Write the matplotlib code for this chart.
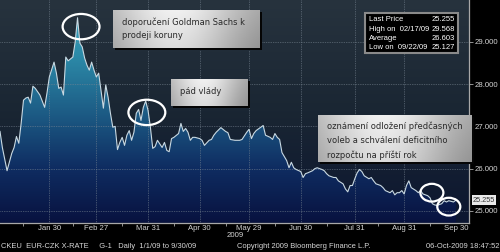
import numpy as np
import matplotlib
matplotlib.use("Agg")
import matplotlib.pyplot as plt
from matplotlib.patches import Ellipse, Rectangle
from matplotlib.colors import LinearSegmentedColormap
import matplotlib.transforms as mtransforms

# trading-day index (0 = 1 Jan 2009) and EUR/CZK close
days = [0, 1, 3, 5, 6, 7, 8, 9, 10, 11, 12, 13, 14, 15, 17, 19, 20, 21, 23, 24,
        25, 26, 27, 28, 29, 31, 32, 33, 34, 35, 36, 37, 38, 39, 40, 41, 42, 44, 45, 46,
        47, 48, 49, 50, 51, 52, 53, 54, 55, 56, 57, 58, 59, 60, 61, 62, 63, 64, 65, 66,
        67, 69, 70, 71, 72, 73, 74, 76, 77, 78, 79, 80, 81, 82, 83, 85, 86, 87, 89, 90,
        91, 92, 94, 96, 97, 98, 100, 102, 103, 105, 106, 107, 108, 109, 111, 112, 113, 115, 116, 117,
        118, 119, 120, 122, 123, 124, 125, 126, 128, 129, 130, 131, 133, 134, 135, 137, 138, 139, 140, 142,
        143, 144, 146, 147, 148, 149, 150, 151, 152, 153, 154, 155, 157, 158, 159, 160, 162, 163, 164, 166,
        167, 168, 169, 170, 171, 172, 173, 174, 175, 177, 178, 179, 180, 182, 183, 184, 185, 186, 188, 189,
        190, 191, 193, 194]
rate = [26.88, 26.50, 25.95, 26.36, 26.50, 26.76, 26.60, 27.07, 27.62, 27.67, 27.69, 27.55, 27.95, 27.90, 27.74, 27.45, 27.79, 28.17, 28.52, 28.26,
        27.90, 27.93, 27.74, 28.64, 28.55, 28.64, 29.00, 29.57, 28.97, 28.88, 28.62, 28.45, 28.33, 28.52, 28.33, 28.17, 28.26, 27.43, 27.98, 27.69,
        27.31, 26.98, 27.00, 26.45, 26.62, 26.74, 26.55, 26.79, 26.90, 26.67, 26.86, 27.31, 27.40, 27.14, 27.45, 27.60, 27.38, 26.98, 26.48, 26.52,
        26.67, 26.50, 26.62, 26.43, 26.40, 26.71, 26.74, 26.83, 27.07, 26.88, 26.95, 26.86, 26.67, 26.74, 26.74, 26.71, 26.67, 26.55, 26.67, 26.69,
        26.79, 26.86, 26.97, 26.88, 26.85, 26.69, 26.67, 26.67, 26.69, 26.86, 26.93, 26.71, 26.83, 26.90, 26.98, 27.02, 26.79, 26.74, 26.69, 26.83,
        26.74, 26.69, 26.38, 26.19, 26.02, 26.15, 26.02, 25.98, 25.93, 25.79, 25.88, 25.90, 25.95, 26.00, 26.02, 25.98, 25.95, 25.88, 25.83, 25.79,
        25.79, 25.71, 25.64, 25.52, 25.45, 25.60, 25.60, 25.76, 25.90, 25.98, 25.93, 25.83, 25.76, 25.79, 25.71, 25.64, 25.60, 25.55, 25.48, 25.43,
        25.48, 25.38, 25.43, 25.43, 25.48, 25.40, 25.60, 25.71, 25.55, 25.48, 25.43, 25.48, 25.40, 25.36, 25.31, 25.17, 25.14, 25.13, 25.17, 25.24,
        25.21, 25.24, 25.21, 25.255]

month_pos = [21, 41, 63, 85, 106, 128, 151, 172, 194]
month_labels = ["Jan 30", "Feb 27", "Mar 31", "Apr 30", "May 29", "Jun 30", "Jul 31", "Aug 31", "Sep 30"]
mid_pos = [10, 31, 52, 74, 96, 117, 139, 161, 183]
y_ticks = [25, 26, 27, 28, 29]

stats_names = ["Last Price", "High on  02/17/09", "Average", "Low on  09/22/09"]
stats_values = ["25.255", "29.568", "26.603", "25.127"]

W, H = 500, 252
def fx(px):
    return px / W
def fy(py):
    return 1 - py / H

fig = plt.figure(figsize=(5, 2.52), dpi=100, facecolor="black")
ax = fig.add_axes([0, fy(222.7), fx(469), 222.7 / H])
x0, x1, y0, y1 = 0, 199.6, 24.72, 29.99
ax.set_xlim(x0, x1)
ax.set_ylim(y0, y1)

# background gradient
bg = LinearSegmentedColormap.from_list("bg", ["#0c1630", "#1a2633", "#27333e"])
ax.imshow(np.linspace(0, 1, 256).reshape(-1, 1), cmap=bg, origin="lower", aspect="auto",
          extent=(x0, x1, y0, y1), zorder=0)

# area gradient clipped to the filled polygon
area = ax.fill_between(days, rate, y0, color="none", zorder=1)
fill_cmap = LinearSegmentedColormap.from_list("fill", ["#08123f", "#0f2d62", "#1d5d86", "#2c8aa8", "#3aa6c2"])
img = ax.imshow(np.linspace(0, 1, 256).reshape(-1, 1), cmap=fill_cmap, origin="lower", aspect="auto",
                extent=(x0, x1, y0, y1), zorder=1)
img.set_clip_path(area.get_paths()[0], transform=ax.transData)
ax.plot(days, rate, color="#c9d9e2", lw=0.8, zorder=3)

# grid
for v in y_ticks:
    ax.axhline(v, color="#7a8794", lw=0.5, ls=(0, (1, 1.5)), zorder=2)
for p in month_pos[:-1]:
    ax.axvline(p, color="#7a8794", lw=0.5, ls=(0, (1, 1.5)), zorder=2)

ax.yaxis.tick_right()
ax.set_yticks(y_ticks)
ax.set_yticklabels(["%.3f" % v for v in y_ticks])
ax.set_xticks(month_pos)
ax.set_xticklabels(month_labels)
ax.set_xticks(mid_pos, minor=True)
ax.tick_params(axis="y", colors="#aaaaaa", labelcolor="#d4d4d4", labelsize=5.6, length=3, width=0.6, pad=1)
ax.tick_params(axis="x", which="major", length=0, labelcolor="#d4d4d4", labelsize=5.6, pad=1.5)
ax.tick_params(axis="x", which="minor", length=2, width=0.6, colors="#aaaaaa")
for lab in ax.get_xticklabels() + ax.get_yticklabels():
    lab.set_family("Liberation Sans")
for s in ["top", "left"]:
    ax.spines[s].set_visible(False)
for s in ["right", "bottom"]:
    ax.spines[s].set_color("#a8a8a8")
    ax.spines[s].set_linewidth(0.9)

# circles
for cx, cy, w, h in [(34.5, 29.36, 15.7, 0.6), (62.5, 27.33, 15.7, 0.6),
                     (183.8, 25.43, 9.8, 0.42), (191.0, 25.10, 9.8, 0.42)]:
    ax.add_patch(Ellipse((cx, cy), w, h, fill=False, ec="white", lw=1.6, zorder=5))

# last price tag
trans = mtransforms.blended_transform_factory(ax.transAxes, ax.transData)
ax.text(1.008, 25.255, "25.255", transform=trans, fontsize=5.3, family="Liberation Sans",
        color="#333333", va="center", ha="left",
        bbox=dict(boxstyle="square,pad=0.15", fc="#e8e8e8", ec="none"), clip_on=False)

# grey callout boxes
gx = np.linspace(0, 1, 200)
gy = np.linspace(0, 1, 60)
GX, GY = np.meshgrid(gx, gy)
shade = 0.6 + 0.34 * np.exp(-((GX - 0.42) / 0.45) ** 2) - 0.08 * GY

def callout(left, top, right, bottom, lines, tx, ty, step):
    sh = Rectangle((fx(left + 2), fy(bottom + 2)), fx(right - left), (bottom - top) / H,
                   transform=fig.transFigure, fc="#050505", ec="none", zorder=6)
    fig.add_artist(sh)
    bax = fig.add_axes([fx(left), fy(bottom), fx(right - left), (bottom - top) / H])
    bax.set_zorder(8)
    bax.imshow(shade, cmap="gray", vmin=0, vmax=1, aspect="auto")
    bax.axis("off")
    for i, t in enumerate(lines):
        fig.text(fx(tx), fy(ty + i * step), t, fontsize=6, color="#2a2a2a",
                 family="DejaVu Sans", va="center", ha="left", zorder=10)

callout(113, 10, 260, 48, ["doporučení Goldman Sachs k", "prodeji koruny"], 122, 22, 14)
callout(171, 79, 248, 106, ["pád vlády"], 180, 91, 0)
callout(318, 115, 472, 162, ["oznámení odložení předčasných", "voleb a schválení deficitního",
                             "rozpočtu na příští rok"], 327, 126, 14.5)

# stats box
fig.add_artist(Rectangle((fx(365), fy(53)), fx(458 - 365), 40 / H, transform=fig.transFigure,
                         fc="black", ec="#8a8a8a", lw=1.5, zorder=6))
for i in range(len(stats_names)):
    yy = fy(20 + i * 9.2)
    fig.text(fx(369), yy, stats_names[i], fontsize=5.5, color="white", family="Liberation Sans",
             va="center", ha="left", zorder=7)
    fig.text(fx(455), yy, stats_values[i], fontsize=5.5, color="white", family="Liberation Sans",
             va="center", ha="right", zorder=7)

# footer
fig.text(fx(235), fy(235.5), "2009", fontsize=5.6, color="#d4d4d4", family="Liberation Sans",
         ha="center", va="center")
fig.text(fx(1), fy(246), "CKEU  EUR-CZK X-RATE     G-1   Daily  1/1/09 to 9/30/09", fontsize=5.4,
         color="#d8d8d8", family="Liberation Sans", ha="left", va="center")
fig.text(fx(304), fy(246), "Copyright 2009 Bloomberg Finance L.P.", fontsize=5.4,
         color="#d8d8d8", family="Liberation Sans", ha="center", va="center")
fig.text(fx(499), fy(246), "06-Oct-2009 18:47:52", fontsize=5.4,
         color="#d8d8d8", family="Liberation Sans", ha="right", va="center")

fig.savefig("out.png", dpi=100, facecolor="black")
